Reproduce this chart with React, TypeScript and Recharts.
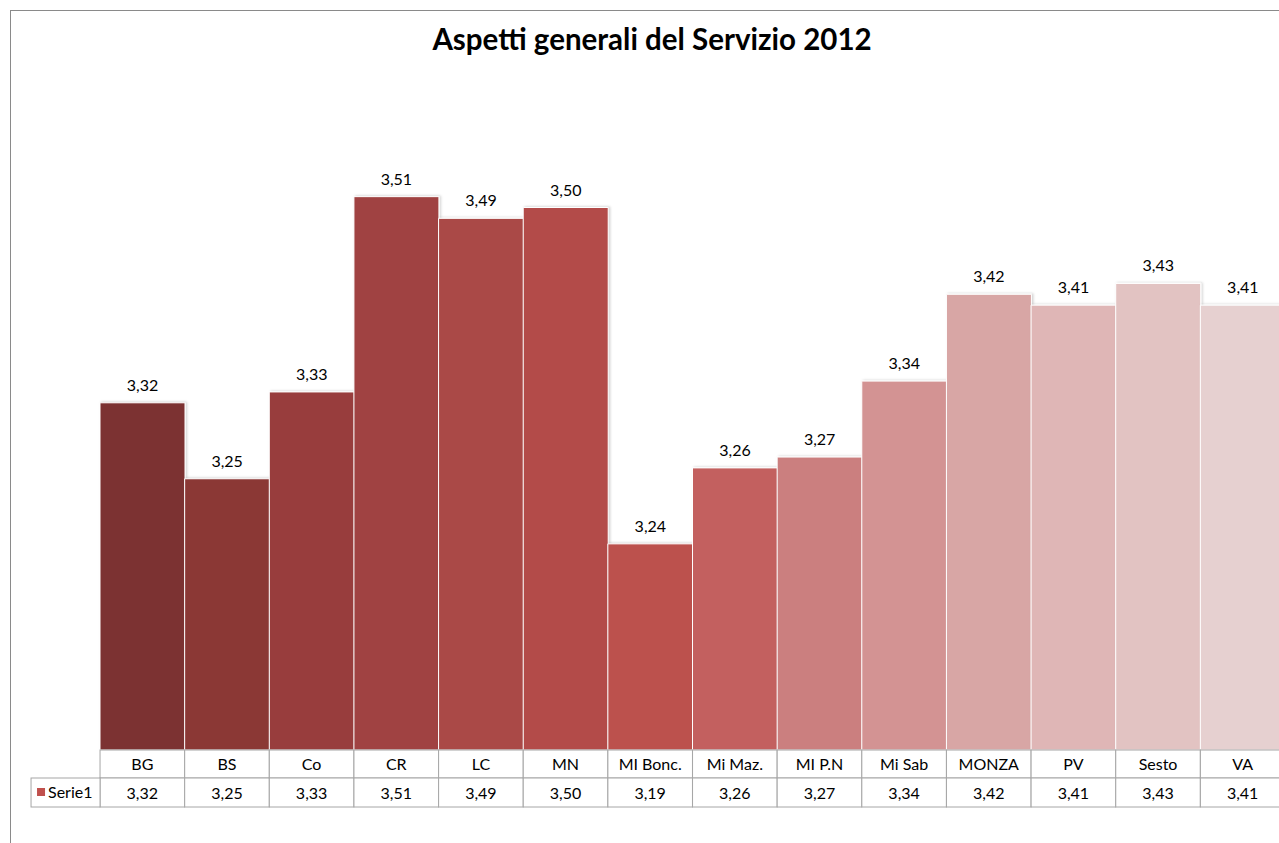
import React from "react";
import { Bar, BarChart, Cell, LabelList, XAxis, YAxis } from "recharts";

const categories = ["BG", "BS", "Co", "CR", "LC", "MN", "MI Bonc.", "Mi Maz.", "MI P.N", "Mi Sab", "MONZA", "PV", "Sesto", "VA"];
const values = [3.32, 3.25, 3.33, 3.51, 3.49, 3.5, 3.19, 3.26, 3.27, 3.34, 3.42, 3.41, 3.43, 3.41];
// labels shown above the bars (MI Bonc. carries a hand-edited label in the source)
const barLabels = ["3,32", "3,25", "3,33", "3,51", "3,49", "3,50", "3,24", "3,26", "3,27", "3,34", "3,42", "3,41", "3,43", "3,41"];
const tableValues = ["3,32", "3,25", "3,33", "3,51", "3,49", "3,50", "3,19", "3,26", "3,27", "3,34", "3,42", "3,41", "3,43", "3,41"];
const colors = [
  "#7c3131", "#8b3736", "#983d3c", "#a04342", "#aa4846", "#b34b49", "#bc514e",
  "#c3605e", "#cb7f7f", "#d39393", "#d8a6a5", "#dfb6b6", "#e2c3c2", "#e6d0d0",
];

const data = categories.map((name, i) => ({ name, value: values[i] }));

const FONT = "Lato, 'Open Sans', sans-serif";
const GRID = "#a6a6a6";
const ROW1 = 28;
const ROW2 = 29;

function TableTick(props: any) {
  const { x, y, index, payload } = props;
  const bw = 1184 / categories.length;
  const left = x - bw / 2;
  const top = y;
  return (
    <g>
      <rect x={left} y={top} width={bw} height={ROW1} fill="#fff" stroke={GRID} strokeWidth={1} />
      <rect x={left} y={top + ROW1} width={bw} height={ROW2} fill="#fff" stroke={GRID} strokeWidth={1} />
      <text x={x} y={top + 20} textAnchor="middle" fontSize={16} fontFamily={FONT} fill="#000">
        {payload.value}
      </text>
      <text x={x} y={top + ROW1 + 21} textAnchor="middle" fontSize={16} fontFamily={FONT} fill="#000">
        {tableValues[index]}
      </text>
      {index === 0 && (
        <g>
          <rect x={left - 69} y={top + ROW1} width={69} height={ROW2} fill="#fff" stroke={GRID} strokeWidth={1} />
          <rect x={left - 63} y={top + ROW1 + 10} width={8} height={8} fill="#c0504d" />
          <text x={left - 52} y={top + ROW1 + 20} fontSize={16} fontFamily={FONT} fill="#000">
            Serie1
          </text>
        </g>
      )}
    </g>
  );
}

function BarLabel(props: any) {
  const { x, y, width, index } = props;
  return (
    <text x={x + width / 2} y={y - 12} textAnchor="middle" fontSize={16} fontFamily={FONT} fill="#000">
      {barLabels[index]}
    </text>
  );
}

export default function App() {
  return (
    <div style={{ position: "fixed", left: 0, top: 0, width: 1279, height: 843, overflow: "hidden", background: "#fff" }}>
      <div
        style={{
          position: "absolute",
          left: 10,
          top: 10,
          width: 1290,
          height: 833,
          borderLeft: "1px solid #8a8a8a",
          borderTop: "1px solid #8a8a8a",
        }}
      >
        <BarChart
          width={1290}
          height={833}
          data={data}
          margin={{ top: 88, right: 16, bottom: 34, left: 89 }}
          barCategoryGap={0}
          barGap={0}
        >
          <defs>
            <filter id="barShadow" x="-5%" y="-5%" width="115%" height="110%">
              <feDropShadow dx="1.5" dy="-0.5" stdDeviation="1" floodColor="#000" floodOpacity="0.18" />
            </filter>
          </defs>
          <text x={641} y={39} textAnchor="middle" fontSize={29.5} fontWeight={700} fontFamily={FONT} fill="#000">
            Aspetti generali del Servizio 2012
          </text>
          <XAxis
            dataKey="name"
            height={60}
            axisLine={false}
            tickLine={false}
            tickSize={0}
            tickMargin={0}
            interval={0}
            tick={<TableTick />}
          />
          <YAxis hide domain={[3, 3.6]} allowDataOverflow />
          <Bar dataKey="value" stroke="#ffffff" strokeWidth={1} isAnimationActive={false} filter="url(#barShadow)">
            {data.map((d, i) => (
              <Cell key={d.name} fill={colors[i]} />
            ))}
            <LabelList dataKey="value" content={<BarLabel />} />
          </Bar>
        </BarChart>
      </div>
    </div>
  );
}
